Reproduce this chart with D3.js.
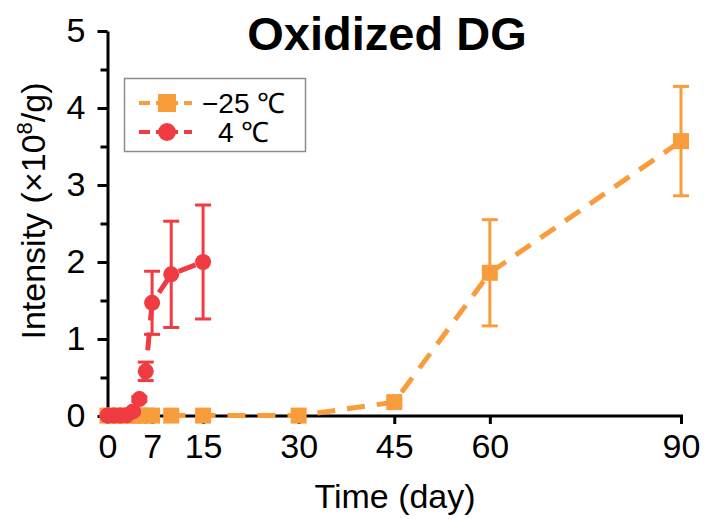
<!DOCTYPE html>
<html>
<head>
<meta charset="utf-8">
<script src="https://cdn.jsdelivr.net/npm/d3@7"></script>
<style>
  html, body { margin: 0; padding: 0; background: #fff; }
  svg { display: block; font-family: "Liberation Sans", Arial, sans-serif; }
</style>
</head>
<body>
<svg id="chart" width="704" height="519"></svg>
<script>
// Sampling days and measured intensities (×10^8/g)
const daysCold = [0, 1, 2, 3, 4, 5, 6, 7, 10, 15, 30, 45, 60, 90];
const valuesCold = [0.005, 0.005, 0.005, 0.005, 0.005, 0.005, 0.005, 0.005, 0.005, 0.005, 0.005, 0.18, 1.86, 3.57];
const errorsCold = [0, 0, 0, 0, 0, 0, 0, 0, 0, 0, 0, 0.03, 0.69, 0.71];

const daysFridge = [0, 1, 2, 3, 4, 5, 6, 7, 10, 15];
const valuesFridge = [0.005, 0.005, 0.005, 0.01, 0.06, 0.22, 0.58, 1.47, 1.84, 2.0];
const errorsFridge = [0, 0, 0, 0, 0.01, 0.03, 0.12, 0.41, 0.69, 0.74];

const seriesNames = ["\u221225 \u2103", "4 \u2103"];
const xTicks = [0, 7, 15, 30, 45, 60, 90];
const yTicks = [0, 1, 2, 3, 4, 5];
const yMinorTicks = [0.5, 1.5, 2.5, 3.5, 4.5];

const ORANGE = "#F99D3C";
const RED = "#EF3B41";

const svg = d3.select("#chart");

const x = d3.scaleLinear().domain([0, 90]).range([107.5, 681]);
const y = d3.scaleLinear().domain([0, 5]).range([416, 31]);

// Axes
const yAxis = svg.append("g").attr("transform", `translate(${x(0)},0)`)
  .call(d3.axisLeft(y).tickValues(yTicks).tickFormat(d3.format("d"))
    .tickSize(10).tickSizeOuter(0).tickPadding(12));
const yMinor = svg.append("g").attr("transform", `translate(${x(0)},0)`)
  .call(d3.axisLeft(y).tickValues(yMinorTicks).tickSize(7).tickFormat(""));
yMinor.select(".domain").remove();

const xAxis = svg.append("g").attr("transform", `translate(0,${y(0)})`)
  .call(d3.axisBottom(x).tickValues(xTicks).tickFormat(d3.format("d"))
    .tickSize(8).tickSizeOuter(0).tickPadding(10));
xAxis.select(".domain").attr("d", `M${x(0) - 1.5},0H${x(90) + 2}`);

[yAxis, yMinor, xAxis].forEach(g => {
  g.selectAll("path, line").attr("stroke", "#000").attr("stroke-width", 3);
  g.selectAll("text").attr("fill", "#000").style("font-size", "34px")
    .style("font-family", '"Liberation Sans", Arial, sans-serif');
});

// Titles
svg.append("text").attr("x", 387).attr("y", 50).attr("text-anchor", "middle")
  .style("font-size", "47px").style("font-weight", "bold").text("Oxidized DG");

svg.append("text").attr("x", 395).attr("y", 508).attr("text-anchor", "middle")
  .style("font-size", "34px").text("Time (day)");

const yTitle = svg.append("text")
  .attr("transform", `translate(45,211) rotate(-90)`)
  .attr("text-anchor", "middle").style("font-size", "34px");
yTitle.append("tspan").text("Intensity (\u00d710");
yTitle.append("tspan").attr("dy", -13).style("font-size", "22px").text("8");
yTitle.append("tspan").attr("dy", 13).text("/g)");

// Data series
function drawSeries(days, vals, errs, color, shape) {
  const pts = days.map((d, i) => ({ d, v: vals[i], e: errs[i] }));
  const g = svg.append("g");
  const line = d3.line().x(p => x(p.d)).y(p => y(p.v));
  g.append("path").datum(pts).attr("d", line)
    .attr("fill", "none").attr("stroke", color).attr("stroke-width", 5)
    .attr("stroke-dasharray", "18,12");
  const eb = g.selectAll(".eb").data(pts.filter(p => p.e > 0)).join("g");
  eb.append("line").attr("x1", p => x(p.d)).attr("x2", p => x(p.d))
    .attr("y1", p => y(p.v - p.e)).attr("y2", p => y(p.v + p.e))
    .attr("stroke", color).attr("stroke-width", 3);
  [-1, 1].forEach(s => {
    eb.append("line").attr("x1", p => x(p.d) - 8).attr("x2", p => x(p.d) + 8)
      .attr("y1", p => y(p.v + s * p.e)).attr("y2", p => y(p.v + s * p.e))
      .attr("stroke", color).attr("stroke-width", 3);
  });
  const sym = d3.symbol().type(shape === "square" ? d3.symbolSquare : d3.symbolCircle)
    .size(shape === "square" ? 256 : 201);
  g.selectAll(".m").data(pts).join("path")
    .attr("transform", p => `translate(${x(p.d)},${y(p.v)})`)
    .attr("d", sym).attr("fill", color);
}

drawSeries(daysCold, valuesCold, errorsCold, ORANGE, "square");
drawSeries(daysFridge, valuesFridge, errorsFridge, RED, "circle");

// Legend
const legend = svg.append("g");
legend.append("rect").attr("x", 124.5).attr("y", 78.5).attr("width", 181).attr("height", 73)
  .attr("fill", "#fff").attr("stroke", "#8c8c8c").attr("stroke-width", 1.5);
const legendRows = [
  { name: seriesNames[0], color: ORANGE, shape: "square", cy: 103, tx: 202 },
  { name: seriesNames[1], color: RED, shape: "circle", cy: 132, tx: 218 }
];
legendRows.forEach(r => {
  legend.append("line").attr("x1", 139).attr("x2", 150).attr("y1", r.cy).attr("y2", r.cy)
    .attr("stroke", r.color).attr("stroke-width", 4);
  legend.append("line").attr("x1", 184).attr("x2", 192).attr("y1", r.cy).attr("y2", r.cy)
    .attr("stroke", r.color).attr("stroke-width", 4);
  legend.append("line").attr("x1", 150).attr("x2", 184).attr("y1", r.cy).attr("y2", r.cy)
    .attr("stroke", r.color).attr("stroke-width", 4).attr("stroke-dasharray", "0,6,22,6");
  const sym = d3.symbol().type(r.shape === "square" ? d3.symbolSquare : d3.symbolCircle)
    .size(r.shape === "square" ? 324 : 254);
  legend.append("path").attr("transform", `translate(167,${r.cy})`).attr("d", sym).attr("fill", r.color);
  legend.append("text").attr("x", r.tx).attr("y", r.cy + 10).style("font-size", "28px").text(r.name);
});
</script>
</body>
</html>
